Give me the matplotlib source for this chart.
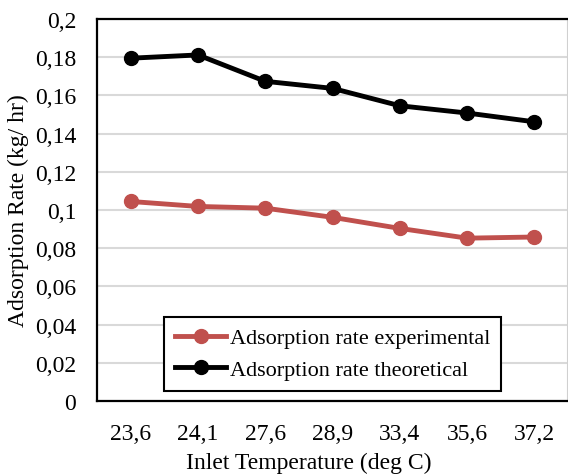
import matplotlib.pyplot as plt
from matplotlib.ticker import FuncFormatter

plt.rcParams['font.family'] = ['Liberation Serif', 'DejaVu Serif']

temps = ['23,6', '24,1', '27,6', '28,9', '33,4', '35,6', '37,2']
rate_exp = [0.1045, 0.1019, 0.1010, 0.0962, 0.0904, 0.0853, 0.0859]
rate_theo = [0.1795, 0.1812, 0.1674, 0.1637, 0.1546, 0.1508, 0.1462]
yticks = [0, 0.02, 0.04, 0.06, 0.08, 0.1, 0.12, 0.14, 0.16, 0.18, 0.2]

fig = plt.figure(figsize=(5.68, 4.77), dpi=100)
ax = fig.add_axes([0.171, 0.157, 0.829, 0.801])

x = list(range(len(temps)))
ax.plot(x, rate_exp, color='#C0504D', lw=3.5, marker='o', ms=10,
        label='Adsorption rate experimental', zorder=3)
ax.plot(x, rate_theo, color='black', lw=3.5, marker='o', ms=10,
        label='Adsorption rate theoretical', zorder=3)

ax.set_xlim(-0.5, len(temps) - 0.5)
ax.set_ylim(0, 0.2)
ax.set_xticks(x)
ax.set_xticklabels(temps)
ax.set_yticks(yticks)
ax.yaxis.set_major_formatter(FuncFormatter(lambda v, p: ('%g' % round(v, 2)).replace('.', ',')))
ax.tick_params(length=0, labelsize=17)
ax.tick_params(axis='y', pad=15)
ax.tick_params(axis='x', pad=16)
ax.grid(axis='y', color='#d9d9d9', lw=1.5, zorder=0)
ax.set_axisbelow(True)

for s in ['left', 'top', 'bottom']:
    ax.spines[s].set_color('black')
    ax.spines[s].set_linewidth(1.6)
ax.spines['right'].set_color('#d0d0d0')
ax.spines['right'].set_linewidth(1.5)

ax.set_xlabel('Inlet Temperature (deg C)', fontsize=17)
ax.xaxis.set_label_coords(0.45, -0.132)
ax.set_ylabel('Adsorption Rate (kg/ hr)', fontsize=17, labelpad=4)

leg = ax.legend(loc='lower left', bbox_to_anchor=(0.142, 0.026), borderaxespad=0,
                fontsize=16, fancybox=False, handlelength=2.3, handletextpad=0.15,
                borderpad=0.5, labelspacing=0.5, framealpha=1)
leg.get_frame().set_edgecolor('black')
leg.get_frame().set_linewidth(1.5)

fig.savefig('out.png', dpi=100)
